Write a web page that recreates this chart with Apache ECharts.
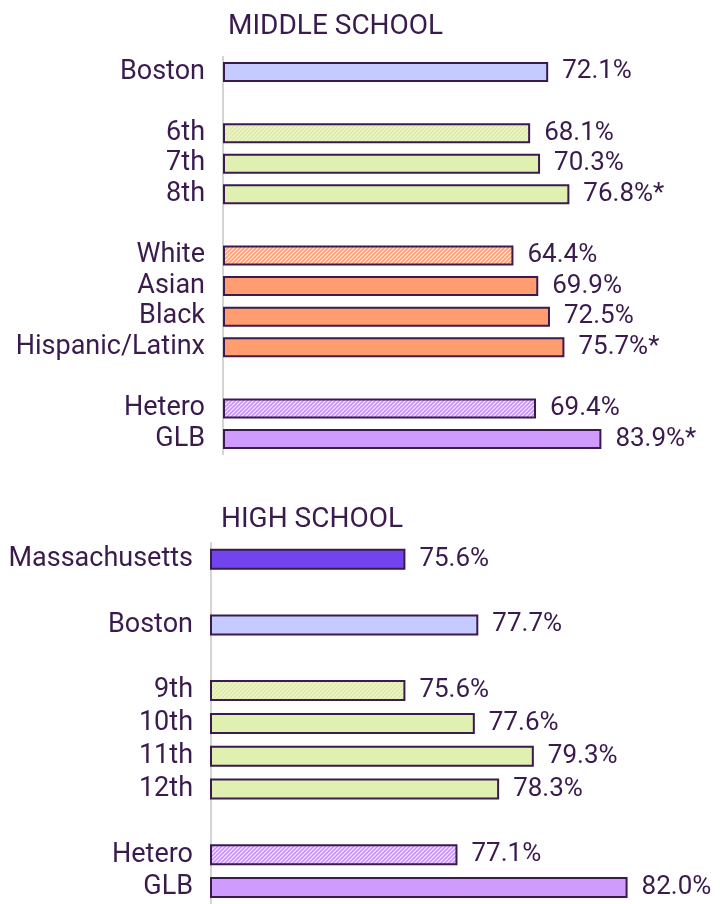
<!DOCTYPE html>
<html>
<head>
<meta charset="utf-8">
<title>Middle and high school</title>
<script src="https://cdn.jsdelivr.net/npm/echarts@6/dist/echarts.min.js"></script>
<style>
  html, body { margin: 0; padding: 0; background: #fff; }
  #chart { width: 722px; height: 904px; }
</style>
</head>
<body>
<div id="chart"></div>
<script>
// middle school
const msCategories = ['Boston', ' ', '6th', '7th', '8th', '  ', 'White', 'Asian', 'Black', 'Hispanic/Latinx', '   ', 'Hetero', 'GLB'];
const msValues = [72.1, null, 68.1, 70.3, 76.8, null, 64.4, 69.9, 72.5, 75.7, null, 69.4, 83.9];
const msStyles = ['boston', null, 'gradeHatch', 'grade', 'grade', null, 'raceHatch', 'race', 'race', 'race', null, 'orientHatch', 'orient'];
const msSignificant = [false, false, false, false, true, false, false, false, false, true, false, false, true];

// high school
const hsCategories = ['Massachusetts', ' ', 'Boston', '  ', '9th', '10th', '11th', '12th', '   ', 'Hetero', 'GLB'];
const hsValues = [75.6, null, 77.7, null, 75.6, 77.6, 79.3, 78.3, null, 77.1, 82.0];
const hsStyles = ['state', null, 'boston', null, 'gradeHatch', 'grade', 'grade', 'grade', null, 'orientHatch', 'orient'];
const hsSignificant = [false, false, false, false, false, false, false, false, false, false, false];

const textColor = '#3a1b4d';
const borderColor = '#3b1a4f';
const fontFamily = 'Roboto, "Liberation Sans", sans-serif';

// diagonal stripes on a cream background
function hatch(stripe) {
  const size = 4;
  const c = document.createElement('canvas');
  c.width = size;
  c.height = size;
  const ctx = c.getContext('2d');
  ctx.fillStyle = '#f6f2e6';
  ctx.fillRect(0, 0, size, size);
  ctx.strokeStyle = stripe;
  ctx.lineWidth = 1.6;
  ctx.beginPath();
  ctx.moveTo(0, size); ctx.lineTo(size, 0);
  ctx.moveTo(-1, 1); ctx.lineTo(1, -1);
  ctx.moveTo(size - 1, size + 1); ctx.lineTo(size + 1, size - 1);
  ctx.stroke();
  return { image: c, repeat: 'repeat' };
}

const fills = {
  state: '#7244ee',
  boston: '#c5cbfe',
  grade: '#dff0b0',
  gradeHatch: hatch('#d8ec9f'),
  race: '#ff9c70',
  raceHatch: hatch('#ff9c70'),
  orient: '#cf9cfe',
  orientHatch: hatch('#c98ffc')
};

function barData(values, styles, sig) {
  return values.map((v, i) => ({
    value: v,
    sig: sig[i],
    itemStyle: styles[i] ? { color: fills[styles[i]] } : undefined
  }));
}

function yAxis(gridIndex, categories) {
  return {
    type: 'category',
    gridIndex,
    data: categories,
    inverse: true,
    axisTick: { show: false },
    axisLine: { show: true, lineStyle: { color: '#d4d4d4', width: 2 } },
    axisLabel: { interval: 0, margin: 18, fontSize: 27, color: textColor, fontFamily, padding: [4, 0, 0, 0] }
  };
}

function barSeries(index, values, styles, sig, width) {
  return {
    type: 'bar',
    xAxisIndex: index,
    yAxisIndex: index,
    barWidth: width,
    data: barData(values, styles, sig),
    itemStyle: { borderColor, borderWidth: 2 },
    label: {
      show: true,
      position: 'right',
      distance: 14,
      fontSize: 26,
      color: textColor,
      fontFamily,
      padding: [4, 0, 0, 0],
      formatter: (p) => p.value == null ? '' : p.value.toFixed(1) + '%' + (p.data.sig ? '*' : '')
    },
    animation: false
  };
}

const chart = echarts.init(document.getElementById('chart'));

chart.setOption({
  backgroundColor: '#fff',
  title: [
    { text: 'MIDDLE SCHOOL', left: 223, top: 8, textStyle: { fontSize: 28, fontWeight: 'normal', color: textColor, fontFamily } },
    { text: 'HIGH SCHOOL', left: 216, top: 501, textStyle: { fontSize: 28, fontWeight: 'normal', color: textColor, fontFamily } }
  ],
  grid: [
    { left: 223, top: 56.7, width: 451, height: 397.6 },
    { left: 211, top: 542.9, width: 486, height: 365.7 }
  ],
  xAxis: [
    { type: 'value', gridIndex: 0, min: 0, max: 100, show: false },
    { type: 'value', gridIndex: 1, min: 70, max: 84, show: false }
  ],
  yAxis: [yAxis(0, msCategories), yAxis(1, hsCategories)],
  series: [
    barSeries(0, msValues, msStyles, msSignificant, 20),
    barSeries(1, hsValues, hsStyles, hsSignificant, 21)
  ]
});
</script>
</body>
</html>
